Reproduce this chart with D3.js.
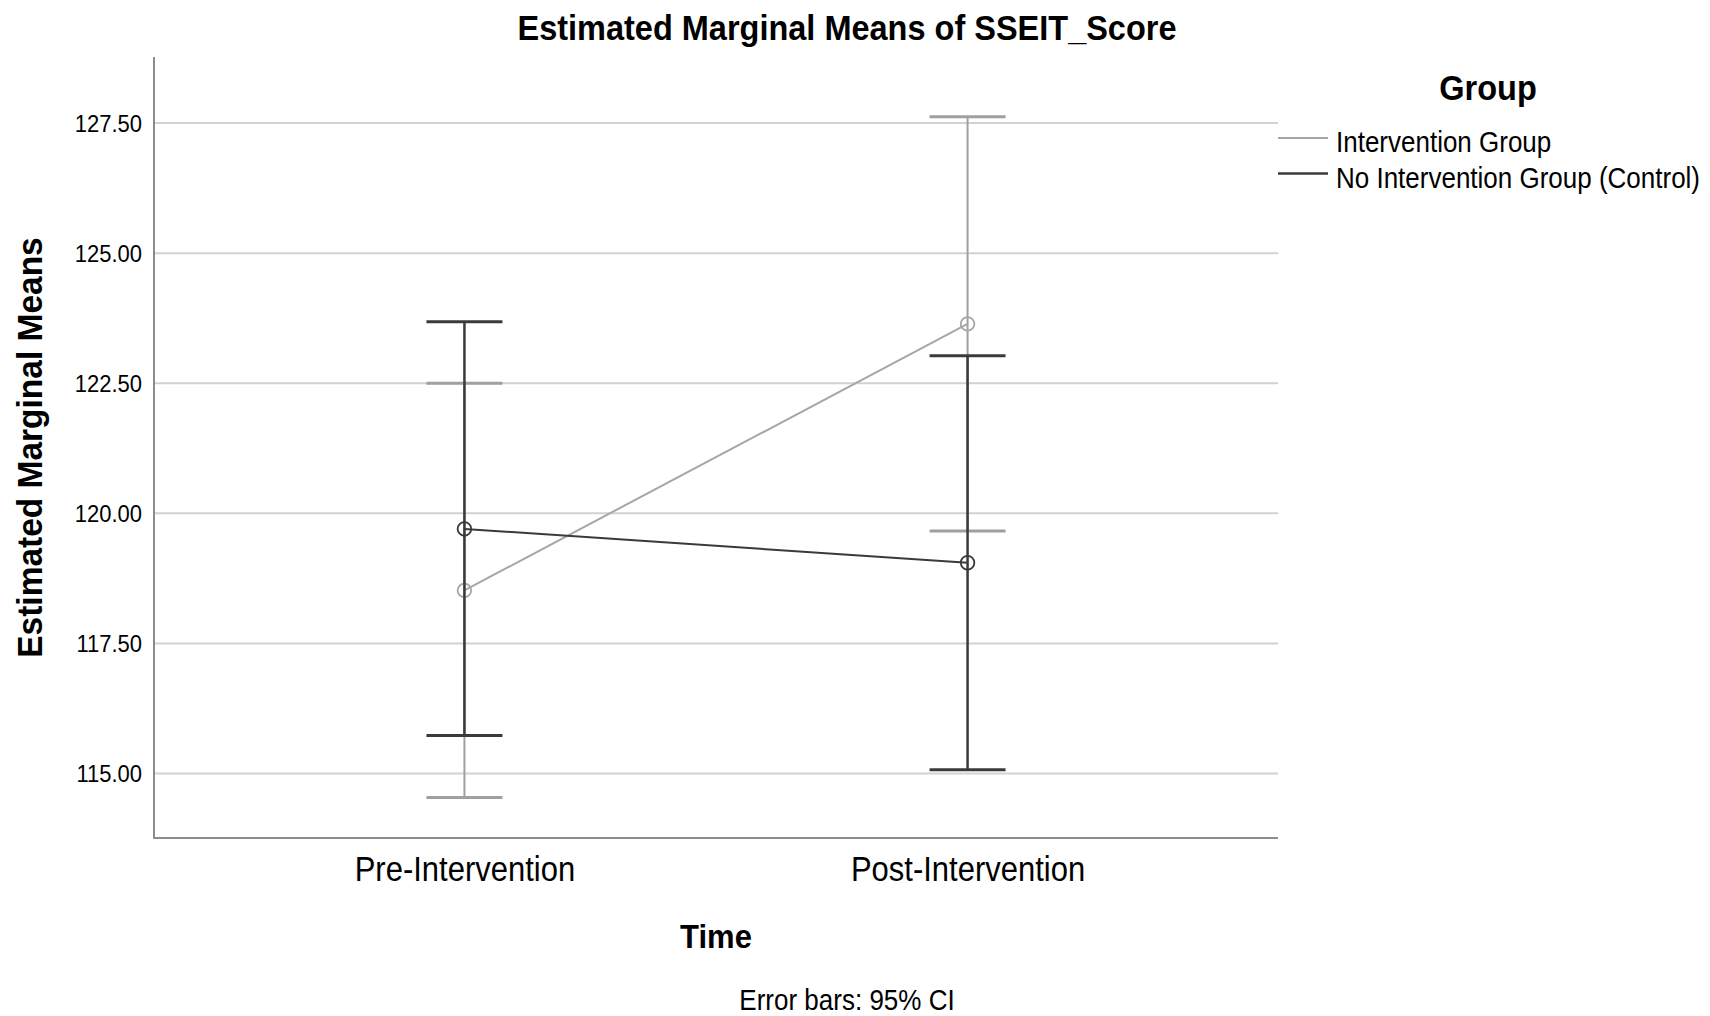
<!DOCTYPE html>
<html>
<head>
<meta charset="utf-8">
<script src="https://cdn.jsdelivr.net/npm/d3@7"></script>
<style>
  body { margin: 0; background: #fff; }
  text { font-family: "Liberation Sans", Arial, sans-serif; fill: #000; }
</style>
</head>
<body>
<script>
// chart data
var times = ["Pre-Intervention", "Post-Intervention"];
var groups = ["Intervention Group", "No Intervention Group (Control)"];

var interventionMean = [118.51, 123.63];
var interventionLower = [114.53, 119.65];
var interventionUpper = [122.49, 127.61];

var controlMean = [119.69, 119.04];
var controlLower = [115.72, 115.06];
var controlUpper = [123.67, 123.02];

var yTicks = [115, 117.5, 120, 122.5, 125, 127.5];

var width = 1710, height = 1016;
// plot box ("top" is taken by window.top, so use other names)
var plotLeft = 154, plotRight = 1278, plotTop = 57, plotBottom = 838;

var svg = d3.select("body").append("svg")
    .attr("width", width)
    .attr("height", height);

// SPSS text looks a bit taller than Arial, stretch it vertically
function tall(sel, x, y, k) {
  sel.attr("x", 0).attr("y", 0).attr("dy", null)
     .attr("transform", "translate(" + x + "," + y + ") scale(1," + k + ")");
  return sel;
}

var x = d3.scalePoint()
    .domain(times)
    .range([plotLeft, plotRight])
    .padding(0.617);

var y = d3.scaleLinear()
    .domain([113.75, 128.76])
    .range([plotBottom, plotTop]);

// gridlines
svg.append("g")
    .attr("transform", "translate(" + plotLeft + ",0)")
    .call(d3.axisLeft(y).tickValues(yTicks).tickSize(-(plotRight - plotLeft)).tickFormat(""))
    .call(function (g) {
      g.select(".domain").remove();
      g.selectAll(".tick line").attr("stroke", "#d2d2d2").attr("stroke-width", 2);
    });

// y axis labels
svg.append("g")
    .attr("transform", "translate(" + plotLeft + ",0)")
    .call(d3.axisLeft(y).tickValues(yTicks).tickSize(0).tickPadding(12).tickFormat(d3.format(".2f")))
    .call(function (g) {
      g.select(".domain").remove();
      g.selectAll(".tick text").style("font-size", "22px").attr("fill", "#1a1a1a")
        .attr("font-family", "Liberation Sans, Arial, sans-serif")
        .each(function () { tall(d3.select(this), -12, 8.5, 1.07); });
    });

// x axis labels
svg.append("g")
    .attr("transform", "translate(0," + plotBottom + ")")
    .call(d3.axisBottom(x).tickSize(0))
    .call(function (g) {
      g.select(".domain").remove();
      g.selectAll(".tick text").style("font-size", "31px").attr("fill", "#1a1a1a")
        .attr("font-family", "Liberation Sans, Arial, sans-serif")
        .each(function () { tall(d3.select(this), 0, 43, 1.12); });
    });

// axis lines
svg.append("line")
    .attr("x1", plotLeft).attr("x2", plotLeft).attr("y1", plotTop).attr("y2", plotBottom)
    .attr("stroke", "#8c8c8c").attr("stroke-width", 2);
svg.append("line")
    .attr("x1", plotLeft - 1).attr("x2", plotRight).attr("y1", plotBottom).attr("y2", plotBottom)
    .attr("stroke", "#8c8c8c").attr("stroke-width", 2);

var series = [
  { name: groups[0], mean: interventionMean, lo: interventionLower, hi: interventionUpper,
    color: "#a6a6a6", barColor: "#a0a0a0", lw: 2, bw: 2, cw: 3 },
  { name: groups[1], mean: controlMean, lo: controlLower, hi: controlUpper,
    color: "#3a3a3a", barColor: "#3a3a3a", lw: 2, bw: 2.5, cw: 3 }
];

var capHalf = 38;

series.forEach(function (s) {
  var pts = times.map(function (t, i) {
    return { t: t, m: s.mean[i], lo: s.lo[i], hi: s.hi[i] };
  });
  var g = svg.append("g");

  // error bars
  g.selectAll(".bar").data(pts).enter().append("line")
      .attr("x1", function (d) { return x(d.t); })
      .attr("x2", function (d) { return x(d.t); })
      .attr("y1", function (d) { return y(d.lo); })
      .attr("y2", function (d) { return y(d.hi); })
      .attr("stroke", s.barColor).attr("stroke-width", s.bw);
  ["lo", "hi"].forEach(function (k) {
    g.selectAll(".cap" + k).data(pts).enter().append("line")
        .attr("x1", function (d) { return x(d.t) - capHalf; })
        .attr("x2", function (d) { return x(d.t) + capHalf; })
        .attr("y1", function (d) { return y(d[k]); })
        .attr("y2", function (d) { return y(d[k]); })
        .attr("stroke", s.barColor).attr("stroke-width", s.cw);
  });

  // line between means
  g.append("path")
      .datum(pts)
      .attr("fill", "none")
      .attr("stroke", s.color)
      .attr("stroke-width", s.lw)
      .attr("d", d3.line().x(function (d) { return x(d.t); }).y(function (d) { return y(d.m); }));

  g.selectAll("circle").data(pts).enter().append("circle")
      .attr("cx", function (d) { return x(d.t); })
      .attr("cy", function (d) { return y(d.m); })
      .attr("r", 6.8)
      .attr("fill", "none")
      .attr("stroke", s.color)
      .attr("stroke-width", 1.8);
});

// titles
tall(svg.append("text"), 847, 40, 1.08)
    .attr("text-anchor", "middle")
    .style("font-size", "32.5px").style("font-weight", "bold")
    .text("Estimated Marginal Means of SSEIT_Score");

tall(svg.append("text"), (plotLeft + plotRight) / 2, 948, 1.08)
    .attr("text-anchor", "middle")
    .style("font-size", "31px").style("font-weight", "bold")
    .text("Time");

svg.append("text")
    .attr("transform", "translate(42," + (plotTop + plotBottom) / 2 + ") rotate(-90) scale(1,1.04)")
    .attr("text-anchor", "middle")
    .style("font-size", "33.5px").style("font-weight", "bold")
    .text("Estimated Marginal Means");

tall(svg.append("text"), 847, 1010, 1.1)
    .attr("text-anchor", "middle")
    .style("font-size", "26px").attr("fill", "#1a1a1a")
    .text("Error bars: 95% CI");

// legend
var legend = svg.append("g");
tall(legend.append("text"), 1488, 100, 1.06)
    .attr("text-anchor", "middle")
    .style("font-size", "32.5px").style("font-weight", "bold")
    .text("Group");

var items = legend.selectAll(".item").data(series).enter().append("g")
    .attr("transform", function (d, i) { return "translate(1278," + (138 + i * 35.5) + ")"; });
items.append("line")
    .attr("x1", 0).attr("x2", 50)
    .attr("stroke", function (d) { return d.color; })
    .attr("stroke-width", function (d, i) { return i ? 2.5 : 2; });
items.append("text")
    .attr("transform", "translate(58,14) scale(1,1.12)")
    .style("font-size", "26px").attr("fill", "#1a1a1a")
    .text(function (d) { return d.name; });
</script>
</body>
</html>
